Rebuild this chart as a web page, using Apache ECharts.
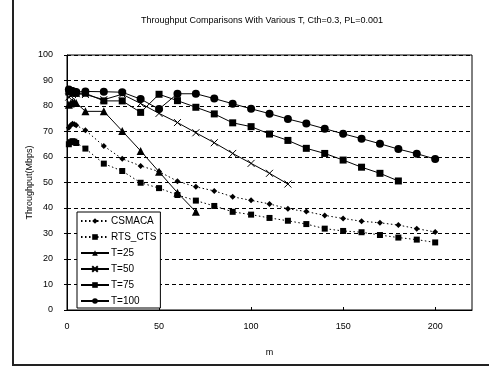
<!DOCTYPE html>
<html>
<head>
<meta charset="utf-8">
<script src="https://cdn.jsdelivr.net/npm/echarts@6/dist/echarts.min.js"></script>
<style>
html,body{margin:0;padding:0;background:#fff;}
#chart{width:489px;height:371px;}
</style>
</head>
<body>
<div id="chart"></div>
<script>
const titleText = 'Throughput Comparisons With Various T, Cth=0.3, PL=0.001';
const mValues = [1,2,3,4,5,10,20,30,40,50,60,70,80,90,100,110,120,130,140,150,160,170,180,190,200];
const csmaca = [71.5,72.5,73.0,72.8,72.5,70.5,64.3,59.3,56.5,54.3,50.5,48.3,46.7,44.4,43.0,41.6,39.7,38.6,37.1,35.9,34.8,34.2,33.3,31.9,30.6];
const rtsCts = [65.0,65.8,66.2,66.0,65.5,63.3,57.4,54.5,49.9,47.8,45.1,42.9,40.8,38.5,37.4,36.1,35.0,33.7,31.9,31.0,30.5,29.4,28.4,27.6,26.5];
const t25 = [80.5,81.0,81.5,81.5,81.2,77.9,77.9,70.2,62.4,54.2,46.0,38.5];
const t50 = [83.5,84.0,84.5,85.0,84.8,84.5,82.5,84.6,81.0,77.1,73.5,69.5,65.6,61.4,57.5,53.6,49.4];
const t75 = [85.5,86.0,85.5,85.0,85.0,85.0,82.0,82.0,77.5,84.6,82.1,79.5,76.9,73.4,71.9,69.0,66.5,63.4,61.4,58.8,56.0,53.6,50.6];
const t100 = [86.5,86.0,85.8,85.6,85.5,85.7,85.6,85.4,82.7,78.8,84.8,84.8,82.9,80.9,78.9,77.0,74.9,73.1,71.1,69.1,67.2,65.2,63.1,61.3,59.2];
const seriesNames = ['CSMACA','RTS_CTS','T=25','T=50','T=75','T=100'];
const xTicks = [0,50,100,150,200];
const yTicks = [0,10,20,30,40,50,60,70,80,90,100];

function pairs(vals){ return vals.map((v,i)=>[mValues[i], v]); }

const FONT = 'Liberation Sans, Arial, sans-serif';
const crossPath = 'path://M0,0L10,10M10,0L0,10';

function mk(name, vals, symbol, size, dotted, hollow){
  return {
    name: name, type: 'line', data: pairs(vals),
    symbol: symbol, symbolSize: size, showSymbol: true,
    lineStyle: {color:'#000', width:1, type: dotted ? [1.5,2.5] : 'solid'},
    itemStyle: hollow ? {color:'rgba(0,0,0,0)', borderColor:'#000', borderWidth:1} : {color:'#000', borderWidth:0},
    emphasis: {disabled:true},
    animation: false
  };
}

const chart = echarts.init(document.getElementById('chart'), null, {renderer:'canvas'});
chart.setOption({
  backgroundColor: '#fff',
  animation: false,
  title: {
    text: titleText, left: 257, top: 11, textAlign: 'center',
    textStyle: {fontFamily: FONT, fontSize: 9, fontWeight: 'normal', color: '#000'}
  },
  grid: {left: 67, top: 55, width: 405, height: 255, show: true, borderColor: '#000', borderWidth: 1, backgroundColor: 'rgba(0,0,0,0)'},
  legend: {
    data: seriesNames, orient: 'vertical', left: 77, top: 212,
    itemWidth: 28, itemHeight: 7, itemGap: 6,
    padding: [4, 4, 2, 3],
    backgroundColor: '#fff', borderColor: '#000', borderWidth: 1, borderRadius: 0,
    textStyle: {fontFamily: FONT, fontSize: 10, color: '#000', padding: [0,0,0,-3]},
    selectedMode: false
  },
  xAxis: {
    type: 'value', min: 0, max: 220, interval: 50,
    name: 'm', nameLocation: 'middle', nameGap: 38,
    nameTextStyle: {fontFamily: FONT, fontSize: 9, color: '#000'},
    axisLine: {show: true, lineStyle: {color: '#000', width: 1}},
    axisTick: {show: true, inside: true, length: 3, lineStyle: {color: '#000'}},
    axisLabel: {fontFamily: FONT, fontSize: 9, color: '#000', margin: 12, showMaxLabel: false,
      formatter: v => xTicks.indexOf(v) >= 0 ? String(v) : ''},
    splitLine: {show: false}
  },
  yAxis: {
    type: 'value', min: 0, max: 100, interval: 10,
    name: 'Throughput(Mbps)', nameLocation: 'middle', nameGap: 33, nameMoveOverlap: false,
    nameTextStyle: {fontFamily: FONT, fontSize: 9, color: '#000'},
    axisLine: {show: true, lineStyle: {color: '#000', width: 1}},
    axisTick: {show: true, inside: false, length: 3, lineStyle: {color: '#000'}},
    axisLabel: {fontFamily: FONT, fontSize: 9, color: '#000', margin: 14,
      formatter: v => yTicks.indexOf(v) >= 0 ? String(v) : ''},
    splitLine: {show: true, lineStyle: {color: '#000', width: 1, type: [4, 3]}}
  },
  graphic: [{
    type: 'rect', silent: true, z: 100,
    shape: {x: 13, y: -10, width: 520, height: 375},
    style: {fill: 'none', stroke: '#222', lineWidth: 2}
  }],
  series: [
    mk('CSMACA', csmaca, 'diamond', 6, true, false),
    mk('RTS_CTS', rtsCts, 'rect', 6, true, false),
    mk('T=25', t25, 'triangle', 8, false, false),
    mk('T=50', t50, crossPath, 7, false, true),
    mk('T=75', t75, 'rect', 7, false, false),
    mk('T=100', t100, 'circle', 8, false, false)
  ]
});
</script>
</body>
</html>
